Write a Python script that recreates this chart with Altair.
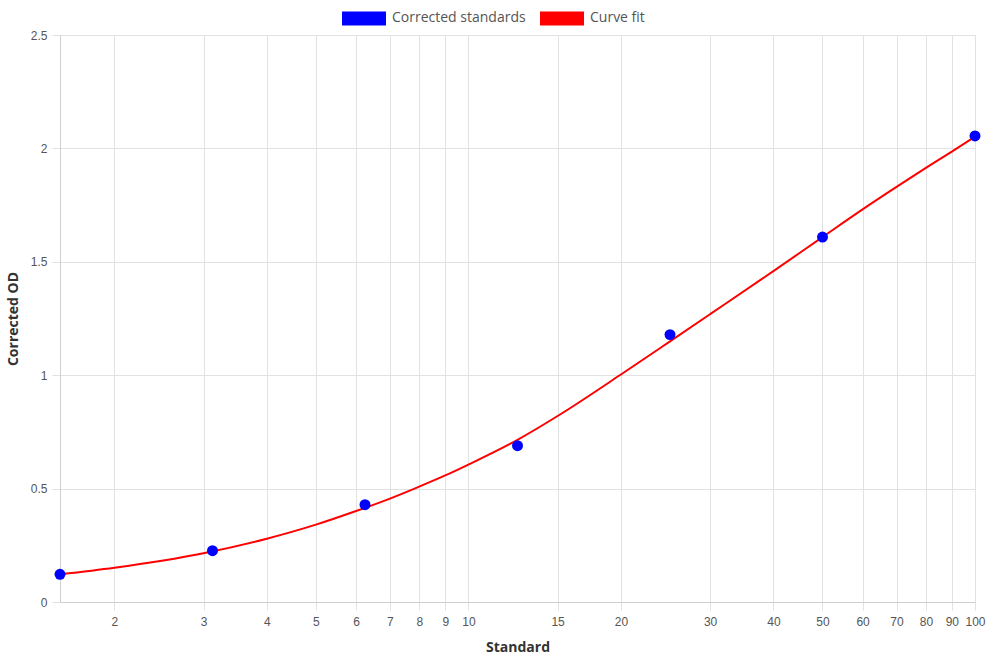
import altair as alt
import pandas as pd

# Standards (measured)
std_x = [1.5625, 3.125, 6.25, 12.5, 25, 50, 100]
std_y = [0.122, 0.226, 0.429, 0.689, 1.179, 1.609, 2.055]

# Curve fit
fit_x = [1.5625, 2, 3, 4, 5, 6, 7, 8, 9, 10, 12.5, 15, 20, 25, 30, 40, 50, 60, 70, 80, 90, 100]
fit_y = [0.122, 0.151, 0.215, 0.279, 0.341, 0.401, 0.456, 0.509, 0.558, 0.606, 0.715,
         0.820, 1.003, 1.149, 1.269, 1.459, 1.609, 1.731, 1.830, 1.914, 1.986, 2.052]

x_ticks = [2, 3, 4, 5, 6, 7, 8, 9, 10, 15, 20, 30, 40, 50, 60, 70, 80, 90, 100]
y_ticks = [0, 0.5, 1, 1.5, 2, 2.5]
series = ["Corrected standards", "Curve fit"]
colors = ["#0000ff", "#ff0000"]

std_df = pd.DataFrame({"x": std_x, "y": std_y, "series": series[0]})
fit_df = pd.DataFrame({"x": fit_x, "y": fit_y, "series": series[1]})

label_font = "Liberation Sans"
title_font = "Open Sans"

x_enc = alt.X(
    "x:Q",
    scale=alt.Scale(type="log", domain=[1.5625, 100], nice=False),
    axis=alt.Axis(
        title="Standard", values=x_ticks, format="~g",
        labelFont=label_font, labelFontSize=12, labelColor="#555",
        titleFont=title_font, titleFontSize=14, titleFontWeight="bold", titleColor="#333",
        tickSize=8, labelPadding=6, titlePadding=13,
        gridColor="#e2e2e2", tickColor="#e2e2e2", domainColor="#cfcfcf",
        labelFlush=False, labelOverlap=False,
    ),
)
y_enc = alt.Y(
    "y:Q",
    scale=alt.Scale(domain=[0, 2.5], nice=False),
    axis=alt.Axis(
        title="Corrected OD", values=y_ticks, format="~g",
        labelFont=label_font, labelFontSize=12, labelColor="#555",
        titleFont=title_font, titleFontSize=14, titleFontWeight="bold", titleColor="#333",
        tickSize=8, labelPadding=5, titlePadding=10,
        gridColor="#e2e2e2", tickColor="#e2e2e2", domainColor="#cfcfcf",
    ),
)

line = alt.Chart(fit_df).mark_line(color="#ff0000", strokeWidth=2, interpolate="monotone").encode(
    x=x_enc, y=y_enc
)

points = alt.Chart(std_df).mark_point(filled=True, size=120, opacity=1).encode(
    x=x_enc,
    y=y_enc,
    color=alt.Color(
        "series:N",
        scale=alt.Scale(domain=series, range=colors),
        legend=alt.Legend(
            title=None, orient="none", direction="horizontal",
            legendX=282, legendY=-39,
            symbolType="M-1,-0.32H1V0.32H-1Z", symbolSize=1936,
            symbolStrokeWidth=0, symbolOpacity=1,
            labelFont=title_font, labelFontSize=14, labelColor="#555",
            labelOffset=6, columnPadding=14,
        ),
    ),
)

chart = alt.layer(line, points).properties(
    width=915, height=567,
    autosize=alt.AutoSizeParams(type="none"),
    padding={"left": 60, "top": 35, "right": 15, "bottom": 58},
).configure_view(stroke=None).configure(background="white")

chart.save("out.html", embed_options={"renderer": "svg", "actions": False})
